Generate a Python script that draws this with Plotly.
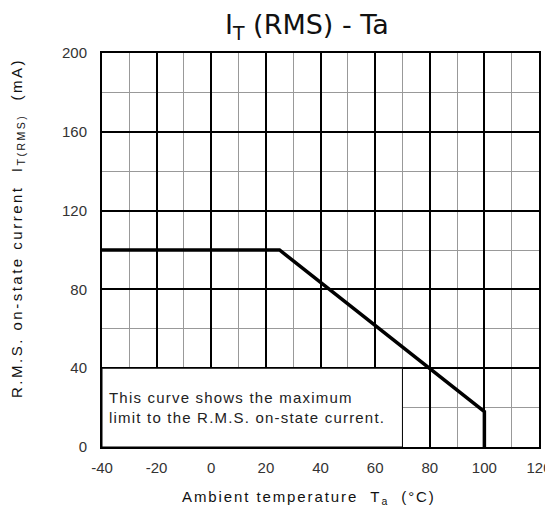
import plotly.graph_objects as go

temp_c = [-40, 25, 100, 100]
it_rms_ma = [100, 100, 18, 0]
x_ticks = [-40, -20, 0, 20, 40, 60, 80, 100, 120]
y_ticks = [0, 40, 80, 120, 160, 200]

FONT = "Liberation Sans, Arial, sans-serif"

fig = go.Figure()
fig.add_trace(go.Scatter(x=temp_c, y=it_rms_ma, mode="lines",
                         line=dict(color="black", width=3.5), showlegend=False,
                         hoverinfo="skip"))

# white note box covering grid
fig.add_shape(type="rect", x0=-40, x1=70, y0=0, y1=40, layer="between",
              fillcolor="white", line=dict(color="black", width=1))

fig.add_annotation(x=-38, y=20, xref="x", yref="y", xanchor="left", yanchor="middle",
                   text='<span style="letter-spacing:1.2px">This curve shows the maximum<br>limit to the R.M.S. on-state current.</span>',
                   showarrow=False, align="left",
                   font=dict(family=FONT, size=15, color="#222"))

fig.add_annotation(x=0.469, y=1.068, xref="paper", yref="paper", xanchor="center", yanchor="middle",
                   text="I<sub>T</sub> (RMS) - Ta", showarrow=False,
                   font=dict(family="DejaVu Sans, Verdana", size=27, color="#111"))

fig.add_annotation(x=-0.192, y=0.556, xref="paper", yref="paper", xanchor="center", yanchor="middle",
                   text='<span style="letter-spacing:2.5px">R.M.S.&nbsp;on-state&nbsp;current&nbsp;&nbsp;I<sub>T(RMS)</sub>&nbsp;&nbsp;(mA)</span>',
                   textangle=-90, showarrow=False,
                   font=dict(family=FONT, size=15, color="#111"))

fig.add_annotation(x=0.474, y=-0.127, xref="paper", yref="paper", xanchor="center", yanchor="middle",
                   text='<span style="letter-spacing:1.9px">Ambient&nbsp;temperature&nbsp;&nbsp;T<sub>a</sub>&nbsp;&nbsp;(°C)</span>',
                   showarrow=False,
                   font=dict(family=FONT, size=15, color="#111"))

fig.update_xaxes(range=[-40, 120], tickvals=x_ticks, ticktext=[str(v) for v in x_ticks],
                 showgrid=True, gridcolor="black", gridwidth=2,
                 minor=dict(dtick=10, tick0=0, showgrid=True, gridcolor="#999", gridwidth=1),
                 showline=True, linecolor="black", linewidth=2, mirror=True,
                 ticks="", zeroline=False, ticklabelstandoff=6, automargin=False,
                 tickfont=dict(family=FONT, size=15, color="#333"))
fig.update_yaxes(range=[0, 200], tickvals=y_ticks, ticktext=[str(v) for v in y_ticks],
                 showgrid=True, gridcolor="black", gridwidth=2,
                 minor=dict(dtick=20, tick0=0, showgrid=True, gridcolor="#999", gridwidth=1),
                 showline=True, linecolor="black", linewidth=2, mirror=True,
                 ticks="", zeroline=False, ticklabelstandoff=10, automargin=False,
                 tickfont=dict(family=FONT, size=15, color="#333"))

# page body has an 8px default margin, so shrink the figure accordingly
fig.update_layout(width=545, height=516, margin=dict(l=94, r=14, t=45, b=77),
                  plot_bgcolor="white", paper_bgcolor="white")

fig.write_html("out.html")
